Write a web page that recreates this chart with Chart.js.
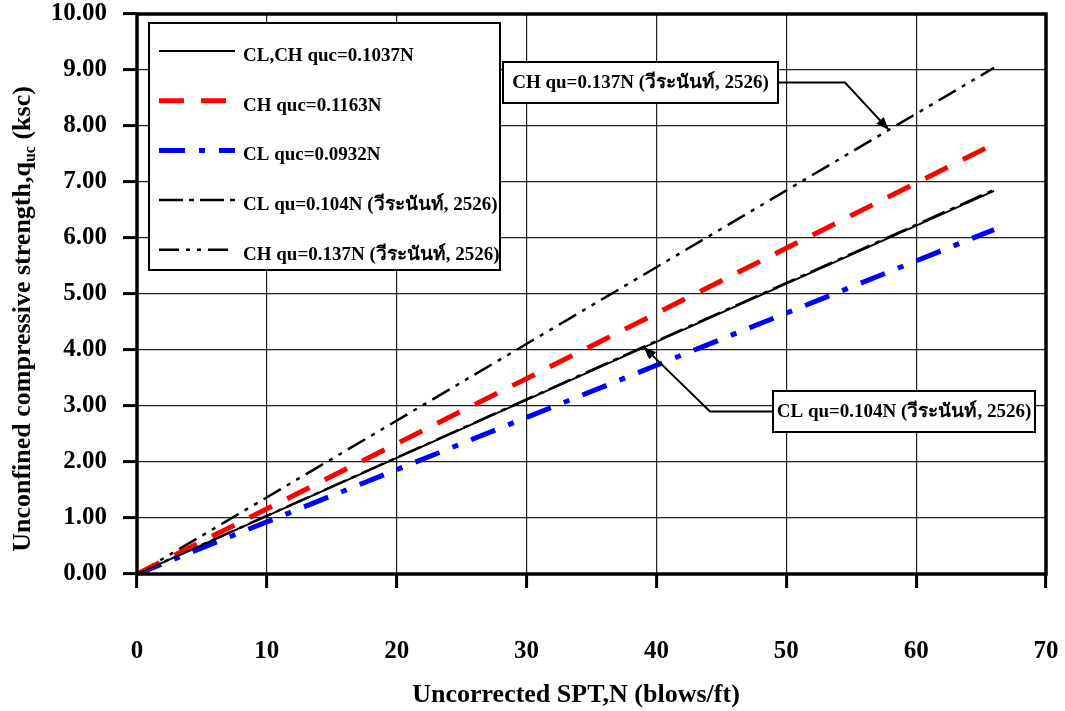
<!DOCTYPE html>
<html>
<head>
<meta charset="utf-8">
<script src="https://cdn.jsdelivr.net/npm/chart.js@4.4.1/dist/chart.umd.min.js"></script>
<style>
  html, body { margin: 0; padding: 0; background: #fff; }
  #wrap { width: 1065px; height: 711px; }
</style>
</head>
<body>
<div id="wrap"><canvas id="chart" width="1065" height="711"></canvas></div>
<script>
// SPT N values (blows/ft) and qu (ksc)
const nValues = [0, 66]
const clchQuc = [0, 6.84]
const chQuc = [0, 7.68]
const clQuc = [0, 6.15]
const clQuWeera = [0, 6.86]
const chQuWeera = [0, 9.04]

const seriesLabels = [
  "CL,CH quc=0.1037N",
  "CH quc=0.1163N",
  "CL quc=0.0932N",
  "CL qu=0.104N (วีระนันท์, 2526)",
  "CH qu=0.137N (วีระนันท์, 2526)",
]
const xTicks = [0, 10, 20, 30, 40, 50, 60, 70]
const yTicks = [0, 1, 2, 3, 4, 5, 6, 7, 8, 9, 10]

// annotation arrows point at these N values on the two reference lines
const noteCH = { text: seriesLabels[4], n: 57.9, q: 7.93 }
const noteCL = { text: seriesLabels[3], n: 39, q: 4.06 }

const FONT = "'Liberation Serif', 'Times New Roman', serif"

function pts(ys) {
  return nValues.map((n, i) => ({ x: n, y: ys[i] }))
}

const datasets = [
  { label: seriesLabels[0], data: pts(clchQuc), borderColor: "#000", borderWidth: 2, borderDash: [] },
  { label: seriesLabels[1], data: pts(chQuc), borderColor: "#ff0000", borderWidth: 5, borderDash: [25, 17] },
  { label: seriesLabels[2], data: pts(clQuc), borderColor: "#0000ff", borderWidth: 5, borderDash: [26, 14, 6, 14] },
  { label: seriesLabels[3], data: pts(clQuWeera), borderColor: "#000", borderWidth: 2.5, borderDash: [24, 6, 5, 6] },
  { label: seriesLabels[4], data: pts(chQuWeera), borderColor: "#000", borderWidth: 2.5, borderDash: [20, 7, 4, 7, 4, 7] },
]
datasets.forEach((d) => {
  d.pointRadius = 0
  d.fill = false
  d.tension = 0
  d.borderCapStyle = "butt"
})

// frame, legend box, axis titles and the two callouts
const extras = {
  id: "extras",
  afterDraw(chart) {
    const ctx = chart.ctx
    const a = chart.chartArea
    const xs = chart.scales.x
    const ys = chart.scales.y
    ctx.save()

    // thick plot frame
    ctx.strokeStyle = "#000"
    ctx.lineWidth = 3.5
    ctx.strokeRect(a.left, a.top, a.right - a.left, a.bottom - a.top)

    // legend
    const lx = 149, ly = 23, lw = 351, lh = 247
    ctx.fillStyle = "#fff"
    ctx.fillRect(lx, ly, lw, lh)
    ctx.lineWidth = 2
    ctx.strokeStyle = "#000"
    ctx.strokeRect(lx, ly, lw, lh)
    ctx.font = "bold 19px " + FONT
    ctx.textBaseline = "middle"
    ctx.textAlign = "left"
    chart.data.datasets.forEach((d, i) => {
      const y = 54 + i * 49.7
      ctx.strokeStyle = d.borderColor
      ctx.lineWidth = d.borderWidth
      ctx.setLineDash(d.borderDash)
      ctx.beginPath()
      ctx.moveTo(159, y - 3)
      ctx.lineTo(235, y - 3)
      ctx.stroke()
      ctx.setLineDash([])
      ctx.fillStyle = "#000"
      ctx.fillText(d.label, 243, y + 2)
    })

    // callouts
    function callout(note, box, elbow) {
      const tx = xs.getPixelForValue(note.n)
      const ty = ys.getPixelForValue(note.q)
      ctx.fillStyle = "#fff"
      ctx.fillRect(box.x, box.y, box.w, box.h)
      ctx.strokeStyle = "#000"
      ctx.lineWidth = 2
      ctx.strokeRect(box.x, box.y, box.w, box.h)
      ctx.fillStyle = "#000"
      ctx.font = "bold 19px " + FONT
      ctx.textAlign = "center"
      ctx.textBaseline = "middle"
      ctx.fillText(note.text, box.x + box.w / 2, box.y + box.h / 2 + 1)
      // leader
      const sx = elbow.fromRight ? box.x + box.w : box.x
      const sy = box.y + box.h / 2
      ctx.lineWidth = 2
      ctx.beginPath()
      ctx.moveTo(sx, sy)
      ctx.lineTo(elbow.x, sy)
      ctx.lineTo(tx, ty)
      ctx.stroke()
      // arrow head
      const ang = Math.atan2(ty - sy, tx - elbow.x)
      const len = 13, wid = 5
      ctx.beginPath()
      ctx.moveTo(tx, ty)
      ctx.lineTo(tx - len * Math.cos(ang) + wid * Math.sin(ang), ty - len * Math.sin(ang) - wid * Math.cos(ang))
      ctx.lineTo(tx - len * Math.cos(ang) - wid * Math.sin(ang), ty - len * Math.sin(ang) + wid * Math.cos(ang))
      ctx.closePath()
      ctx.fill()
    }
    callout(noteCH, { x: 503, y: 62, w: 275, h: 41 }, { x: 845, fromRight: true })
    callout(noteCL, { x: 773, y: 391, w: 262, h: 41 }, { x: 710, fromRight: false })

    // x title
    ctx.fillStyle = "#000"
    ctx.font = "bold 26px " + FONT
    ctx.textAlign = "center"
    ctx.textBaseline = "middle"
    ctx.fillText("Uncorrected SPT,N (blows/ft)", 576, 695)

    // y title with subscript
    const main = "Unconfined compressive strength,q"
    const sub = "uc"
    const tail = " (ksc)"
    ctx.font = "bold 26px " + FONT
    const w1 = ctx.measureText(main).width
    const w3 = ctx.measureText(tail).width
    ctx.font = "bold 16px " + FONT
    const w2 = ctx.measureText(sub).width
    const total = w1 + w2 + w3
    ctx.translate(21, 319)
    ctx.rotate(-Math.PI / 2)
    ctx.textAlign = "left"
    ctx.textBaseline = "alphabetic"
    let cx = -total / 2
    ctx.font = "bold 26px " + FONT
    ctx.fillText(main, cx, 9)
    cx += w1
    ctx.font = "bold 16px " + FONT
    ctx.fillText(sub, cx, 14)
    cx += w2
    ctx.font = "bold 26px " + FONT
    ctx.fillText(tail, cx, 9)

    ctx.restore()
  },
}

new Chart(document.getElementById("chart"), {
  type: "line",
  data: { datasets },
  options: {
    responsive: false,
    animation: false,
    layout: { padding: { top: 14, right: 19, left: 0, bottom: 0 } },
    plugins: {
      legend: { display: false },
      tooltip: { enabled: false },
    },
    scales: {
      x: {
        type: "linear",
        min: 0,
        max: 70,
        afterBuildTicks: (s) => { s.ticks = xTicks.map((v) => ({ value: v })) },
        afterFit: (s) => {
          s.height = 137
          s.paddingLeft = 0
          s.paddingRight = 0
        },
        border: { display: false },
        grid: { color: "#222", lineWidth: 1.2, tickLength: 14, tickWidth: 3, tickColor: "#000" },
        ticks: {
          padding: 49,
          color: "#000",
          font: { family: FONT, size: 25, weight: "bold" },
          maxRotation: 0,
        },
      },
      y: {
        min: 0,
        max: 10,
        afterBuildTicks: (s) => { s.ticks = yTicks.map((v) => ({ value: v })) },
        afterFit: (s) => {
          s.width = 137
          s.paddingTop = 0
          s.paddingBottom = 0
        },
        border: { display: false },
        grid: { color: "#222", lineWidth: 1.2, tickLength: 14, tickWidth: 3, tickColor: "#000" },
        ticks: {
          padding: 16,
          color: "#000",
          font: { family: FONT, size: 25, weight: "bold" },
          callback: (v) => Number(v).toFixed(2),
        },
      },
    },
  },
  plugins: [extras],
})
</script>
</body>
</html>
